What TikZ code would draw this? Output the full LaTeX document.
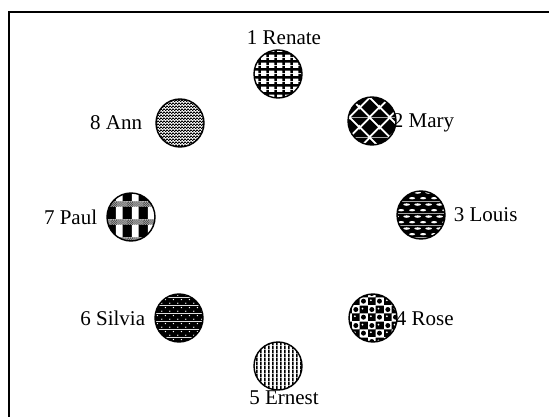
\documentclass[tikz,border=0pt]{standalone}
\usepackage{fontspec}
\setmainfont{Liberation Serif}
\usetikzlibrary{patterns.meta, positioning, backgrounds}

% fill patterns of the eight discs
\tikzdeclarepattern{name=renategrid, type=colored,
  bottom left={(0pt,0pt)}, top right={(8pt,8pt)}, tile size={(8pt,8pt)},
  code={\tikzset{x=1pt,y=1pt}
    \draw[line width=2.8pt] (0,4) -- (8,4) (4,0) -- (4,8);}}
\tikzdeclarepattern{name=marydiamonds, type=colored,
  bottom left={(0pt,0pt)}, top right={(20pt,20pt)}, tile size={(20pt,20pt)},
  code={\tikzset{x=1pt,y=1pt}
    \fill (10,1.5) -- (18.5,10) -- (10,18.5) -- (1.5,10) -- cycle;
    \fill (0,0) -- (8.5,0) -- (0,8.5) -- cycle (20,0) -- (11.5,0) -- (20,8.5) -- cycle
          (0,20) -- (8.5,20) -- (0,11.5) -- cycle (20,20) -- (11.5,20) -- (20,11.5) -- cycle;}}
\tikzdeclarepattern{name=louisdashes, type=colored,
  bottom left={(0pt,0pt)}, top right={(11pt,12pt)}, tile size={(11pt,12pt)},
  code={\tikzset{x=1pt,y=1pt}
    \fill (0,0) rectangle (11,12);
    \fill[white] (5.5,3) ellipse (3.2 and 1.2) (0,9) ellipse (3.2 and 1.2) (11,9) ellipse (3.2 and 1.2);}}
\tikzdeclarepattern{name=rosechecks, type=colored,
  bottom left={(0pt,0pt)}, top right={(16pt,16pt)}, tile size={(16pt,16pt)},
  code={\tikzset{x=1pt,y=1pt}
    \fill (0,0) rectangle (8,8) (8,8) rectangle (16,16);
    \fill (12,4) circle (2.6) (4,12) circle (2.6);
    \fill[white] (3,5) circle (1) (11,13) circle (1);}}
\tikzdeclarepattern{name=ernestlines, type=colored,
  bottom left={(0pt,0pt)}, top right={(4pt,4pt)}, tile size={(4pt,4pt)},
  code={\tikzset{x=1pt,y=1pt}
    \fill (0,0) rectangle (2,4);}}
\tikzdeclarepattern{name=silviadots, type=colored,
  bottom left={(0pt,0pt)}, top right={(8pt,8pt)}, tile size={(8pt,8pt)},
  code={\tikzset{x=1pt,y=1pt}
    \fill (0,0) rectangle (8,8);
    \fill[white] (2,2) circle (0.8) (6,6) circle (0.8);}}
\tikzdeclarepattern{name=paulplaid, type=colored,
  bottom left={(0pt,0pt)}, top right={(16pt,18pt)}, tile size={(16pt,18pt)},
  code={\tikzset{x=1pt,y=1pt}
    \fill (0,0) rectangle (16,18);
    \fill[white] (4,0) rectangle (11,18) (0,13) rectangle (16,18);
    \foreach \i in {0,...,7} {
      \foreach \j in {0,2,4} {\fill ({2*\i},{13+\j}) rectangle +(1,1);}
      \foreach \j in {1,3} {\fill ({2*\i+1},{13+\j}) rectangle +(1,1);}
    }}}
\tikzdeclarepattern{name=annchecks, type=colored,
  bottom left={(0pt,0pt)}, top right={(3pt,3pt)}, tile size={(3pt,3pt)},
  code={\tikzset{x=1pt,y=1pt}
    \fill (0,0) rectangle (1.9,1.9) (1.5,1.5) rectangle (3,3);}}

\begin{document}
\begin{tikzpicture}[x=1pt, y=-1pt,
  coin/.style = {circle, draw, line width=1.4pt, minimum size=48pt, inner sep=0pt,
                 preaction={fill=white}},
  tag/.style = {font=\fontsize{21}{25}\selectfont, inner sep=0pt,
                text height=14pt, text depth=0pt}
]
\useasboundingbox (0,0) rectangle (549,417);
\draw[line width=2pt] (8.7,12.5) rectangle (555,425);

\node[coin, pattern=renategrid]   (renate) at (278,74)  {};
\node[coin, pattern=marydiamonds] (mary)   at (372,121) {};
\node[coin, pattern=louisdashes]  (louis)  at (421,215) {};
\node[coin, pattern=rosechecks]   (rose)   at (373,318) {};
\node[coin, pattern=ernestlines]  (ernest) at (278,366) {};
\node[coin, pattern=silviadots]   (silvia) at (179,318) {};
\node[coin, pattern=paulplaid]    (paul)   at (131,217) {};
\node[coin, pattern=annchecks]    (ann)    at (180,123) {};

\begin{scope}[on background layer]
\node[tag, above=5pt of renate, xshift=6pt] (renatetag) {1 Renate};
\node[tag, right=-4pt of mary]               (marytag)   {2 Mary};
\node[tag, right=8pt of louis]               (louistag)  {3 Louis};
\node[tag, right=-2pt of rose]               (rosetag)   {4 Rose};
\node[tag, below=0pt of ernest, xshift=6pt] (ernesttag) {5 Ernest};
\node[tag, left=9pt of silvia]               (silviatag) {6 Silvia};
\node[tag, left=9pt of paul]                 (paultag)   {7 Paul};
\node[tag, left=13pt of ann]                 (anntag)    {8 Ann};
\end{scope}

\end{tikzpicture}
\end{document}
